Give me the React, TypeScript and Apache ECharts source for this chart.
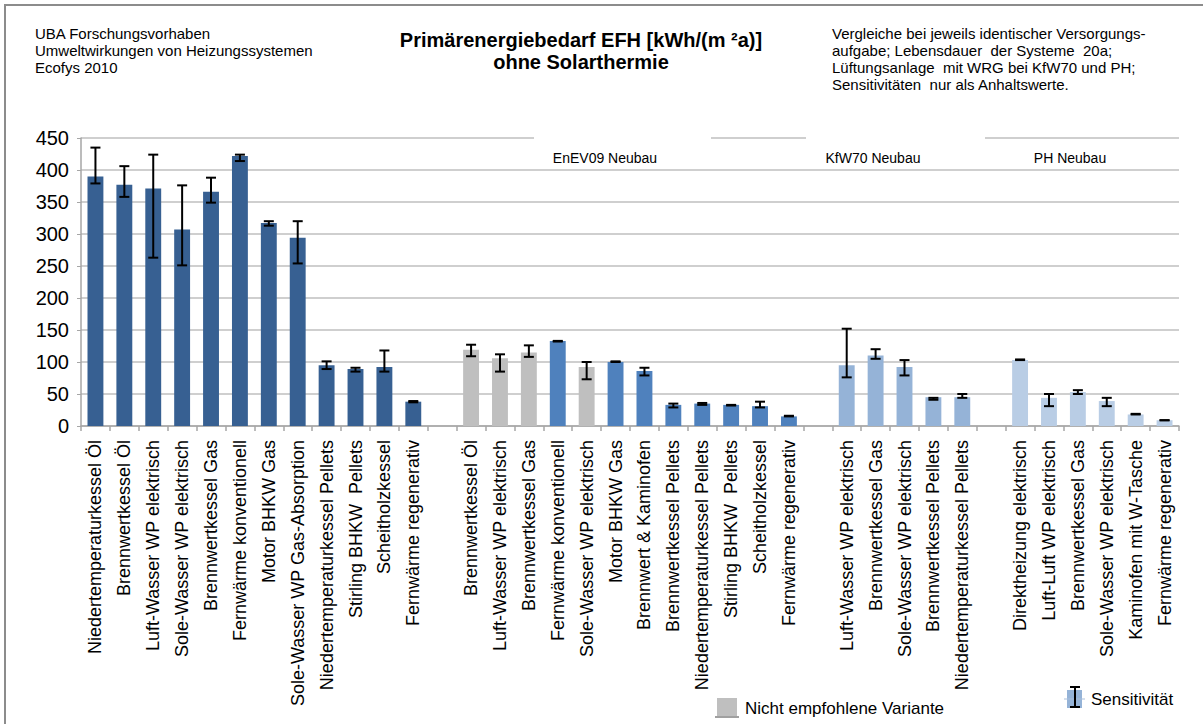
import React, { useEffect, useRef } from "react";
import * as echarts from "echarts";

// ---- Data ----
const bestandCats = [
  "Niedertemperaturkessel Öl", "Brennwertkessel Öl", "Luft-Wasser WP elektrisch", "Sole-Wasser WP elektrisch",
  "Brennwertkessel Gas", "Fernwärme konventionell", "Motor BHKW Gas", "Sole-Wasser WP Gas-Absorption",
  "Niedertemperaturkessel Pellets", "Stirling BHKW  Pellets", "Scheitholzkessel", "Fernwärme regenerativ",
];
const bestandValues = [390, 377, 371, 307, 366, 422, 317, 294, 95, 89, 92, 38];
const bestandLow = [379, 358, 263, 251, 349, 414, 313, 254, 89, 85, 85, 37];
const bestandHigh = [435, 406, 424, 376, 388, 424, 320, 320, 101, 91, 118, 39];

const enevCats = [
  "Brennwertkessel Öl", "Luft-Wasser WP elektrisch", "Brennwertkessel Gas", "Fernwärme konventionell",
  "Sole-Wasser WP elektrisch", "Motor BHKW Gas", "Brennwert & Kaminofen", "Brennwertkessel Pellets",
  "Niedertemperaturkessel Pellets", "Stirling BHKW  Pellets", "Scheitholzkessel", "Fernwärme regenerativ",
];
const enevValues = [119, 106, 115, 133, 92, 100, 86, 33, 35, 33, 31, 15];
const enevLow = [109, 85, 108, 132, 73, 100, 79, 29, 33, 32, 29, 15];
const enevHigh = [127, 112, 126, 133, 100, 101, 91, 35, 36, 33, 38, 16];
const enevNotRecommended = [true, true, true, false, true, false, false, false, false, false, false, false];

const kfwCats = [
  "Luft-Wasser WP elektrisch", "Brennwertkessel Gas", "Sole-Wasser WP elektrisch",
  "Brennwertkessel Pellets", "Niedertemperaturkessel Pellets",
];
const kfwValues = [95, 110, 92, 45, 45];
const kfwLow = [76, 105, 79, 41, 44];
const kfwHigh = [152, 120, 103, 44, 50];

const phCats = [
  "Direktheizung elektrisch", "Luft-Luft WP elektrisch", "Brennwertkessel Gas",
  "Sole-Wasser WP elektrisch", "Kaminofen mit W-Tasche", "Fernwärme regenerativ",
];
const phValues = [103, 44, 53, 39, 18, 9];
const phLow = [103, 31, 50, 31, 18, 9];
const phHigh = [104, 50, 56, 44, 19, 9];

const groupLabels = ["EnEV09 Neubau", "KfW70 Neubau", "PH Neubau"];
const yTicks = [0, 50, 100, 150, 200, 250, 300, 350, 400, 450];

const colBestand = "#376092";
const colEnev = "#4F81BD";
const colKfw = "#95B3D7";
const colPh = "#B9CDE5";
const colGray = "#BFBFBF";

export default function App() {
  const ref = useRef<HTMLDivElement>(null);

  useEffect(() => {
    if (!ref.current) return;
    const chart = echarts.init(ref.current, null, { renderer: "svg" });

    const categories: string[] = [];
    const barData: any[] = [];
    const errData: any[] = [];

    const addGroup = (cats: string[], vals: number[], lo: number[], hi: number[], color: string, gray?: boolean[]) => {
      cats.forEach((c, i) => {
        const idx = categories.length;
        categories.push(c);
        barData.push({ value: vals[i], itemStyle: { color: gray && gray[i] ? colGray : color } });
        errData.push([idx, lo[i], hi[i]]);
      });
    };
    const addGap = () => {
      categories.push("");
      barData.push(null);
    };

    addGroup(bestandCats, bestandValues, bestandLow, bestandHigh, colBestand);
    addGap();
    addGroup(enevCats, enevValues, enevLow, enevHigh, colEnev, enevNotRecommended);
    addGap();
    addGroup(kfwCats, kfwValues, kfwLow, kfwHigh, colKfw);
    addGap();
    addGroup(phCats, phValues, phLow, phHigh, colPh);

    const font = "Liberation Sans, Arial, sans-serif";

    chart.setOption({
      animation: false,
      grid: { left: 81, right: 24, top: 138, bottom: 298, containLabel: false },
      xAxis: {
        type: "category",
        data: categories,
        axisLine: { lineStyle: { color: "#A6A6A6", width: 1.5 } },
        axisTick: { show: true, length: 5, lineStyle: { color: "#A6A6A6", width: 1.5 } },
        axisLabel: {
          interval: 0,
          rotate: 90,
          margin: 14,
          color: "#000",
          fontFamily: font,
          fontSize: 18,
        },
      },
      yAxis: {
        type: "value",
        min: 0,
        max: yTicks[yTicks.length - 1],
        interval: 50,
        axisLine: { show: true, lineStyle: { color: "#A6A6A6", width: 1.5 } },
        axisTick: { show: true, length: 4, lineStyle: { color: "#A6A6A6" } },
        axisLabel: { color: "#000", fontFamily: font, fontSize: 20, margin: 12 },
        splitLine: { lineStyle: { color: "#BFBFBF", width: 1.5 } },
      },
      series: [
        {
          type: "bar",
          data: barData,
          barWidth: "55%",
          z: 2,
        },
        {
          type: "custom",
          z: 3,
          data: errData,
          encode: { x: 0, y: [1, 2] },
          renderItem: (params: any, api: any) => {
            const x = api.value(0);
            const lo = api.coord([x, api.value(1)]);
            const hi = api.coord([x, api.value(2)]);
            const hw = 5;
            const style = { stroke: "#000", lineWidth: 2 };
            return {
              type: "group",
              children: [
                { type: "line", shape: { x1: lo[0], y1: lo[1], x2: hi[0], y2: hi[1] }, style },
                { type: "line", shape: { x1: lo[0] - hw, y1: lo[1], x2: lo[0] + hw, y2: lo[1] }, style },
                { type: "line", shape: { x1: hi[0] - hw, y1: hi[1], x2: hi[0] + hw, y2: hi[1] }, style },
              ],
            };
          },
        },
      ],
      graphic: [
        {
          type: "rect",
          shape: { x: 5, y: 5, width: 1250, height: 800 },
          style: { fill: "none", stroke: "#8C8C8C", lineWidth: 2 },
          silent: true,
        },
        // white header boxes covering the top grid line
        { type: "rect", shape: { x: 534, y: 134, width: 177, height: 8 }, style: { fill: "#fff" }, z: 10 },
        { type: "rect", shape: { x: 806, y: 134, width: 179, height: 8 }, style: { fill: "#fff" }, z: 10 },
        {
          type: "text", x: 35, y: 25, z: 20,
          style: {
            text: "UBA Forschungsvorhaben\nUmweltwirkungen von Heizungssystemen\nEcofys 2010",
            font: `15px ${font}`, fill: "#000", lineHeight: 17,
          },
        },
        {
          type: "text", x: 581, y: 29, z: 20,
          style: {
            text: "Primärenergiebedarf EFH [kWh/(m ²a)]\nohne Solarthermie",
            font: `bold 20px ${font}`, fill: "#000", lineHeight: 22, align: "center",
          },
        },
        {
          type: "text", x: 832, y: 25, z: 20,
          style: {
            text: "Vergleiche bei jeweils identischer Versorgungs-\naufgabe; Lebensdauer  der Systeme  20a;\nLüftungsanlage  mit WRG bei KfW70 und PH;\nSensitivitäten  nur als Anhaltswerte.",
            font: `15px ${font}`, fill: "#000", lineHeight: 17,
          },
        },
        { type: "text", x: 605, y: 158, z: 20, style: { text: groupLabels[0], font: `14px ${font}`, fill: "#000", align: "center", verticalAlign: "middle" } },
        { type: "text", x: 873, y: 158, z: 20, style: { text: groupLabels[1], font: `14px ${font}`, fill: "#000", align: "center", verticalAlign: "middle" } },
        { type: "text", x: 1070, y: 158, z: 20, style: { text: groupLabels[2], font: `14px ${font}`, fill: "#000", align: "center", verticalAlign: "middle" } },
        // legend: not recommended
        { type: "rect", shape: { x: 717, y: 698, width: 20, height: 18 }, style: { fill: colGray }, z: 20 },
        { type: "line", shape: { x1: 715, y1: 717, x2: 739, y2: 717 }, style: { stroke: "#A0A0A0", lineWidth: 2 }, z: 20 },
        { type: "text", x: 745, y: 708, z: 20, style: { text: "Nicht empfohlene Variante", font: `17px ${font}`, fill: "#000", verticalAlign: "middle" } },
        // legend: sensitivity
        { type: "rect", shape: { x: 1067, y: 690, width: 15, height: 18 }, style: { fill: colKfw }, z: 20 },
        { type: "line", shape: { x1: 1064, y1: 699, x2: 1085, y2: 699 }, style: { stroke: "#A9BFDB", lineWidth: 1 }, z: 20 },
        { type: "line", shape: { x1: 1075, y1: 687, x2: 1075, y2: 707 }, style: { stroke: "#000", lineWidth: 2 }, z: 21 },
        { type: "line", shape: { x1: 1070, y1: 687, x2: 1080, y2: 687 }, style: { stroke: "#000", lineWidth: 2 }, z: 21 },
        { type: "line", shape: { x1: 1070, y1: 707, x2: 1080, y2: 707 }, style: { stroke: "#000", lineWidth: 2 }, z: 21 },
        { type: "text", x: 1091, y: 699, z: 20, style: { text: "Sensitivität", font: `17px ${font}`, fill: "#000", verticalAlign: "middle" } },
      ],
    });

    return () => chart.dispose();
  }, []);

  return (
    <div
      ref={ref}
      style={{ position: "fixed", left: 0, top: 0, width: 1203, height: 724, background: "#fff" }}
    />
  );
}
